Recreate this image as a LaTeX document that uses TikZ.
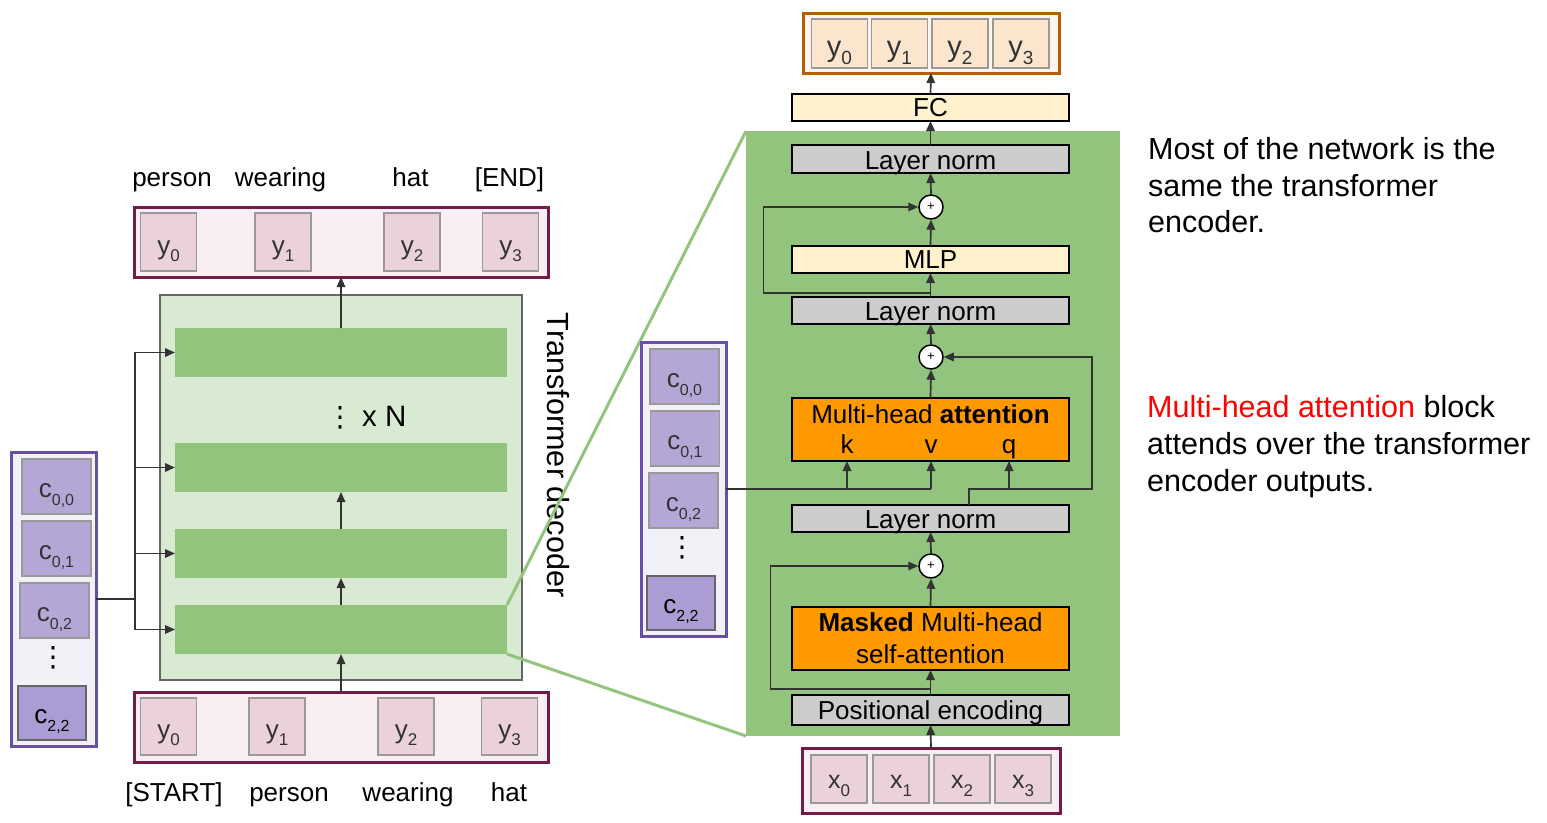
\documentclass[tikz,border=0pt]{standalone}
\usepackage{fontspec}
\setmainfont{Liberation Sans}
\newfontfamily\dvs{DejaVu Sans}
\usetikzlibrary{arrows.meta,calc}
\definecolor{gbar}{HTML}{93C47D}
\definecolor{gbg}{HTML}{D9EAD3}
\definecolor{gborder}{HTML}{666666}
\definecolor{magb}{HTML}{741B47}
\definecolor{magfill}{HTML}{F8EEF3}
\definecolor{magcell}{HTML}{EAD1DC}
\definecolor{orb}{HTML}{B45F06}
\definecolor{orfill}{HTML}{FDF5EE}
\definecolor{orcell}{HTML}{FCE5CD}
\definecolor{purb}{HTML}{674EA7}
\definecolor{purfill}{HTML}{F2F1F7}
\definecolor{purcell}{HTML}{B4A7D6}
\definecolor{purcelld}{HTML}{AB9DD3}
\definecolor{cellb}{HTML}{999999}
\definecolor{lngray}{HTML}{CCCCCC}
\definecolor{mlpy}{HTML}{FFF2CC}
\definecolor{mhao}{HTML}{FF9900}
\definecolor{arrc}{HTML}{333333}
\definecolor{labc}{HTML}{333333}
\definecolor{redt}{HTML}{FF0000}
\newcommand\tok[4]{#1\raisebox{-#4pt}{\fontsize{#3}{#3}\selectfont #2}}
\begin{document}
\begin{tikzpicture}[x=1pt,y=-1pt,
  arr/.style={draw=arrc, line width=1.7pt, -{Triangle[length=10pt,width=8.5pt]}},
  lnk/.style={draw=arrc, line width=1.7pt},
  blk/.style={draw=black, line width=1.5pt, inner sep=0pt, outer sep=0pt, minimum width=277pt},
  plusc/.style={circle, draw=black, fill=white, line width=1.5pt, minimum size=24pt, inner sep=0pt, font=\fontsize{13}{13}\selectfont},
  txt/.style={inner sep=0pt, anchor=base, font=\fontsize{26}{30}\selectfont},
  rtxt/.style={inner sep=0pt, anchor=base west, font=\fontsize{30.5}{36}\selectfont},
  bar/.style={fill=gbar, inner sep=0pt, outer sep=0pt, minimum width=332pt, minimum height=49pt},
  tokbox/.style={line width=3pt, inner sep=0pt, outer sep=0pt},
  cell/.style={line width=1.5pt, draw=cellb, inner sep=0pt, outer sep=0pt},
  ylab/.style={inner sep=0pt, anchor=base, text=labc, font=\fontsize{26}{30}\selectfont},
  clab/.style={inner sep=0pt, anchor=base, text=labc, font=\fontsize{26}{30}\selectfont},
  vdots/.style={inner sep=0pt, font=\dvs\fontsize{28}{28}\selectfont},
  zoomln/.style={draw=gbar, line width=3pt}
]
\useasboundingbox (0,0) rectangle (1547,822);

% ---------------- left: decoder stack ----------------
\node[draw=gborder, fill=gbg, line width=1.3pt, inner sep=0pt, outer sep=0pt, minimum width=362pt, minimum height=385pt] (dec) at (341,487.5) {};
\node[bar] (bar1) at (341,352.5) {};
\node[bar] (bar2) at (341,467.5) {};
\node[bar] (bar3) at (341,553.5) {};
\node[bar] (bar4) at (341,629.5) {};
\node[inner sep=0pt, anchor=base west, font=\fontsize{29.5}{34}\selectfont] (xn) at (334,426.7) {{\dvs\fontsize{28}{28}\selectfont\makebox[12pt]{⋮}}\hspace{16pt}x N};
\node[rotate=-90, anchor=base, inner sep=0pt, font=\fontsize{30.6}{36}\selectfont] (tdlab) at (547,455) {Transformer decoder};

% top output tokens
\node[tokbox, draw=magb, fill=magfill, minimum width=414pt, minimum height=70pt] (topbox) at (341,242) {};
\node[cell, fill=magcell, minimum width=56pt, minimum height=58pt] (t0) at (168.5,242) {};
\node[cell, fill=magcell, minimum width=56pt, minimum height=58pt] (t1) at (283,242) {};
\node[cell, fill=magcell, minimum width=56pt, minimum height=58pt] (t2) at (412,242) {};
\node[cell, fill=magcell, minimum width=56pt, minimum height=58pt] (t3) at (510.5,242) {};
\node[ylab] (lt0) at (168.5,254) {\tok{y}{0}{17}{7}};
\node[ylab] (lt1) at (283,254) {\tok{y}{1}{17}{7}};
\node[ylab] (lt2) at (412,254) {\tok{y}{2}{17}{7}};
\node[ylab] (lt3) at (510.5,254) {\tok{y}{3}{17}{7}};
\node[txt] (w0) at (172,186.5) {person};
\node[txt] (w1) at (280.5,186.5) {wearing};
\node[txt] (w2) at (410.5,186.5) {hat};
\node[txt] (w3) at (509.5,186.5) {[END]};

% bottom input tokens
\node[tokbox, draw=magb, fill=magfill, minimum width=414pt, minimum height=70pt] (botbox) at (341,727) {};
\node[cell, fill=magcell, minimum width=56pt, minimum height=57pt] (b0) at (168.5,726.5) {};
\node[cell, fill=magcell, minimum width=56pt, minimum height=57pt] (b1) at (277,726.5) {};
\node[cell, fill=magcell, minimum width=56pt, minimum height=57pt] (b2) at (406,726.5) {};
\node[cell, fill=magcell, minimum width=56pt, minimum height=57pt] (b3) at (509.5,726.5) {};
\node[ylab] (lb0) at (168.5,738) {\tok{y}{0}{17}{7}};
\node[ylab] (lb1) at (277,738) {\tok{y}{1}{17}{7}};
\node[ylab] (lb2) at (406,738) {\tok{y}{2}{17}{7}};
\node[ylab] (lb3) at (509.5,738) {\tok{y}{3}{17}{7}};
\node[txt] (s0) at (174,801.5) {[START]};
\node[txt] (s1) at (289,801.5) {person};
\node[txt] (s2) at (408,801.5) {wearing};
\node[txt] (s3) at (509,801.5) {hat};

% left memory column
\node[tokbox, draw=purb, fill=purfill, minimum width=85pt, minimum height=294pt] (lmem) at (53.5,599) {};
\node[cell, fill=purcell, minimum width=69pt, minimum height=55pt] (lc0) at (56.5,486.5) {};
\node[cell, fill=purcell, minimum width=69pt, minimum height=55pt] (lc1) at (56.5,548.5) {};
\node[cell, fill=purcell, minimum width=69pt, minimum height=55pt] (lc2) at (54.5,610.5) {};
\node[cell, draw=gborder, fill=purcelld, minimum width=68pt, minimum height=54pt] (lc3) at (52,713) {};
\node[clab] (llc0) at (56.5,497) {\tok{c}{0,0}{16}{8}};
\node[clab] (llc1) at (56.5,559) {\tok{c}{0,1}{16}{8}};
\node[clab] (llc2) at (54.5,621) {\tok{c}{0,2}{16}{8}};
\node[clab, text=black] (llc3) at (52,723) {\tok{c}{2,2}{16}{8}};
\node[vdots] (ldots) at (53,658) {⋮};

% left connectors
\draw[arr] (bar1.north) -- (topbox.south);
\draw[arr] (bar3.north) -- (bar2.south);
\draw[arr] (bar4.north) -- (bar3.south);
\draw[arr] (botbox.north) -- (bar4.south);
\coordinate (lj) at (135,599);
\draw[lnk] (lmem.east) -- (lj);
\draw[arr] (lj) |- (bar1.west);
\draw[arr] (lj) |- (bar2.west);
\draw[arr] (lj) |- (bar3.west);
\draw[arr] (lj) |- (bar4.west);

% ---------------- right: expanded block ----------------
\node[fill=gbar, inner sep=0pt, outer sep=0pt, minimum width=374pt, minimum height=605pt] (panel) at (933,433.5) {};
\draw[zoomln] (bar4.north east) -- (panel.north west);
\draw[zoomln] (bar4.south east) -- (panel.south west);

\node[blk, fill=lngray, minimum height=28pt] (ln1) at (930.5,159) {};
\node[plusc] (p1) at (931,207) {+};
\node[blk, fill=mlpy, minimum height=27pt] (mlp) at (930.5,259.5) {};
\node[blk, fill=lngray, minimum height=27pt] (ln2) at (930.5,310.5) {};
\node[plusc] (p2) at (931,357) {+};
\node[blk, fill=mhao, minimum height=63pt] (mha) at (930.5,429.5) {};
\node[blk, fill=lngray, minimum height=27pt] (ln3) at (930.5,518.5) {};
\node[plusc] (p3) at (931,566) {+};
\node[blk, fill=mhao, minimum height=63pt] (mmha) at (930.5,638.5) {};
\node[blk, fill=lngray, minimum height=30pt] (pe) at (930.5,710) {};
\node[blk, fill=mlpy, minimum height=27pt] (fc) at (930.5,107.5) {};

\node[txt] (tln1) at (930.5,169.3) {Layer norm};
\node[txt] (tmlp) at (930.5,268.3) {MLP};
\node[txt] (tln2) at (930.5,320) {Layer norm};
\node[txt] (tmha) at (930.5,423.3) {Multi-head \textbf{attention}};
\node[txt] (tk) at (847,453.3) {k};
\node[txt] (tv) at (931,453.3) {v};
\node[txt] (tq) at (1009,453.3) {q};
\node[txt] (tln3) at (930.5,528.3) {Layer norm};
\node[txt] (tmm1) at (930.5,631) {\textbf{Masked} Multi-head};
\node[txt] (tmm2) at (930.5,663.3) {self-attention};
\node[txt] (tpe) at (930.5,719.3) {Positional encoding};
\node[txt] (tfc) at (930.5,116.7) {FC};

% output tokens (top right)
\node[tokbox, draw=orb, fill=orfill, minimum width=256pt, minimum height=60pt] (outbox) at (931,43) {};
\node[cell, fill=orcell, minimum width=56pt, minimum height=49pt] (o0) at (839.5,43.5) {};
\node[cell, fill=orcell, minimum width=56pt, minimum height=49pt] (o1) at (899.5,43.5) {};
\node[cell, fill=orcell, minimum width=56pt, minimum height=49pt] (o2) at (960,43.5) {};
\node[cell, fill=orcell, minimum width=56pt, minimum height=49pt] (o3) at (1021,43.5) {};
\node[ylab, font=\fontsize{29}{32}\selectfont] (lo0) at (839.5,56) {\tok{y}{0}{19}{8}};
\node[ylab, font=\fontsize{29}{32}\selectfont] (lo1) at (899.5,56) {\tok{y}{1}{19}{8}};
\node[ylab, font=\fontsize{29}{32}\selectfont] (lo2) at (960,56) {\tok{y}{2}{19}{8}};
\node[ylab, font=\fontsize{29}{32}\selectfont] (lo3) at (1021,56) {\tok{y}{3}{19}{8}};

% input tokens (bottom right)
\node[tokbox, draw=magb, fill=magfill, minimum width=258pt, minimum height=65pt] (inbox) at (931,780.5) {};
\node[cell, fill=magcell, minimum width=56pt, minimum height=48pt] (i0) at (839,779) {};
\node[cell, fill=magcell, minimum width=56pt, minimum height=48pt] (i1) at (901,779) {};
\node[cell, fill=magcell, minimum width=56pt, minimum height=48pt] (i2) at (962,779) {};
\node[cell, fill=magcell, minimum width=56pt, minimum height=48pt] (i3) at (1023,779) {};
\node[ylab, font=\fontsize{25}{30}\selectfont] (li0) at (839,788) {\tok{x}{0}{17}{8}};
\node[ylab, font=\fontsize{25}{30}\selectfont] (li1) at (901,788) {\tok{x}{1}{17}{8}};
\node[ylab, font=\fontsize{25}{30}\selectfont] (li2) at (962,788) {\tok{x}{2}{17}{8}};
\node[ylab, font=\fontsize{25}{30}\selectfont] (li3) at (1023,788) {\tok{x}{3}{17}{8}};

% right memory column
\node[tokbox, draw=purb, fill=purfill, minimum width=85pt, minimum height=294pt] (rmem) at (683.5,489) {};
\node[cell, fill=purcell, minimum width=69pt, minimum height=55pt] (rc0) at (684.5,376.5) {};
\node[cell, fill=purcell, minimum width=69pt, minimum height=55pt] (rc1) at (685,438.5) {};
\node[cell, fill=purcell, minimum width=69pt, minimum height=55pt] (rc2) at (683.5,500.5) {};
\node[cell, draw=gborder, fill=purcelld, minimum width=68pt, minimum height=54pt] (rc3) at (681,603) {};
\node[clab] (lrc0) at (684.5,387) {\tok{c}{0,0}{16}{8}};
\node[clab] (lrc1) at (685,449) {\tok{c}{0,1}{16}{8}};
\node[clab] (lrc2) at (683.5,511) {\tok{c}{0,2}{16}{8}};
\node[clab, text=black] (lrc3) at (681,613) {\tok{c}{2,2}{16}{8}};
\node[vdots] (rdots) at (682,548) {⋮};

% right connectors
\draw[arr] (inbox.north) -- (pe.south);
\draw[arr] (pe.north) -- (mmha.south);
\coordinate (r3) at ($(pe.north)+(0,-6)$);
\draw[arr] (r3) -- ++(-160,0) |- (p3.west);
\draw[arr] (mmha.north) -- (p3.south);
\draw[arr] (p3.north) -- (ln3.south);
\coordinate (qs) at ($(ln3.north)+(38.5,0)$);
\draw[arr] (qs) -- ++(0,-16) -- ++(123,0) |- (p2.east);
\coordinate (qj) at (1009,489);
\draw[arr] (qj) -- (qj |- mha.south);
\coordinate (kj) at (847,489);
\coordinate (vj) at (931,489);
\draw[lnk] (rmem.east) -- (vj);
\draw[arr] (kj) -- (kj |- mha.south);
\draw[arr] (vj) -- (vj |- mha.south);
\draw[arr] (mha.north) -- (p2.south);
\draw[arr] (p2.north) -- (ln2.south);
\draw[arr] (ln2.north) -- (mlp.south);
\coordinate (r2) at ($(ln2.north)+(0,-4)$);
\draw[arr] (r2) -- ++(-167,0) |- (p1.west);
\draw[arr] (mlp.north) -- (p1.south);
\draw[arr] (p1.north) -- (ln1.south);
\draw[arr] (ln1.north) -- (fc.south);
\draw[arr] (fc.north) -- (outbox.south);

% ---------------- right-hand notes ----------------
\node[rtxt] (n1) at (1148,159.3) {Most of the network is the};
\node[rtxt] (n2) at (1148,196) {same the transformer};
\node[rtxt] (n3) at (1148,232.7) {encoder.};
\node[rtxt] (m1) at (1147,417.7) {\textcolor{redt}{Multi-head attention} block};
\node[rtxt] (m2) at (1147,454.3) {attends over the transformer};
\node[rtxt] (m3) at (1147,491) {encoder outputs.};
\end{tikzpicture}
\end{document}
